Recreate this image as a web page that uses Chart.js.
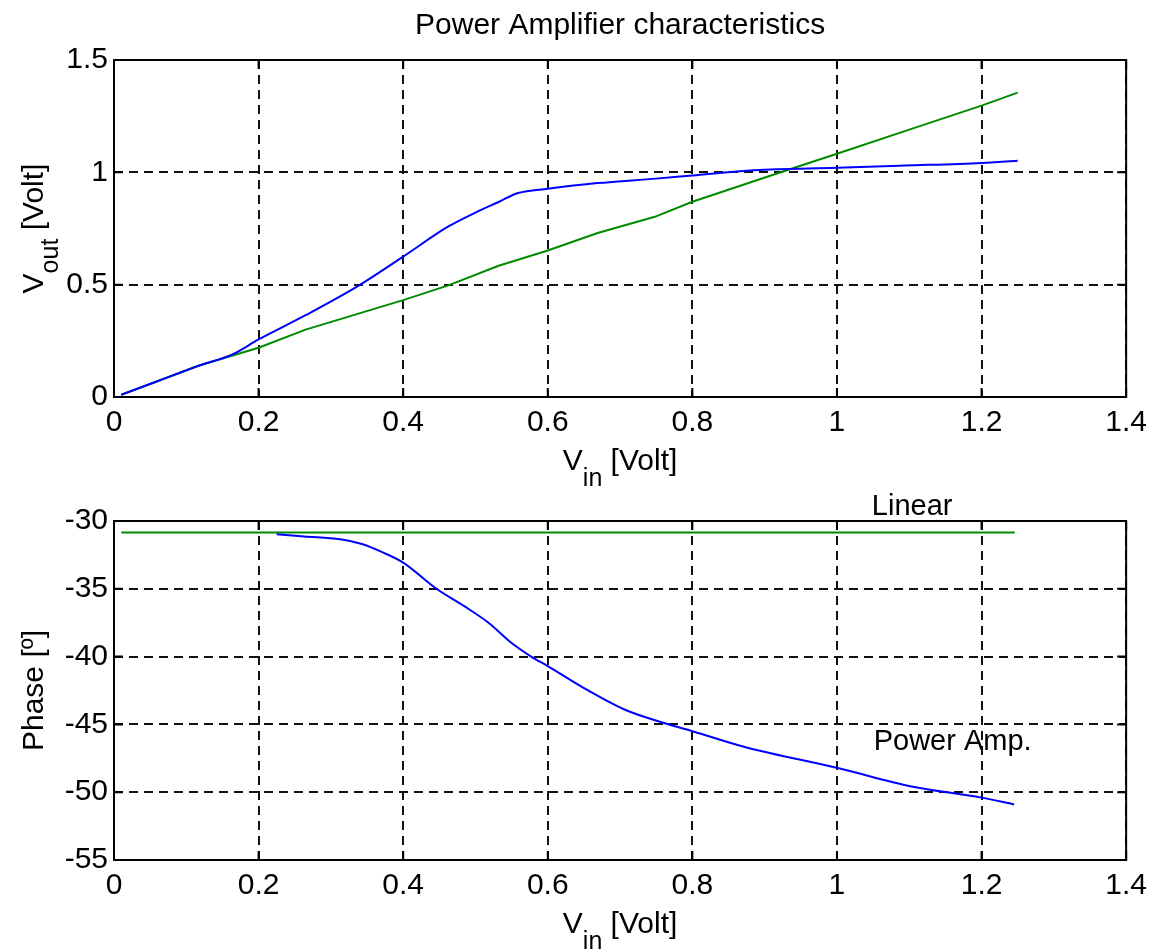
<!DOCTYPE html>
<html><head><meta charset="utf-8">
<script src="https://cdn.jsdelivr.net/npm/chart.js@4.4.1/dist/chart.umd.min.js"></script>
<style>
html,body{margin:0;padding:0;background:#fff;}
#wrap{position:relative;width:1155px;height:951px;overflow:hidden;background:#fff;}
#c1{position:absolute;left:0;top:0;}
#c2{position:absolute;left:0;top:470px;}
</style></head><body>
<div id="wrap"><canvas id="c1" width="1155" height="500"></canvas><canvas id="c2" width="1155" height="481"></canvas></div>
<script>
// ---- tick labels ----
const xTickValues = [0, 0.2, 0.4, 0.6, 0.8, 1, 1.2, 1.4];
const xTickLabels = ['0', '0.2', '0.4', '0.6', '0.8', '1', '1.2', '1.4'];
const ampTickValues = [0, 0.5, 1, 1.5];
const ampTickLabels = ['0', '0.5', '1', '1.5'];
const phaseTickValues = [-55, -50, -45, -40, -35, -30];
const phaseTickLabels = ['-55', '-50', '-45', '-40', '-35', '-30'];

// ---- top plot: output amplitude ----
const paAmpVin  = [0.01, 0.06, 0.118, 0.164, 0.2, 0.265, 0.339, 0.4, 0.4625, 0.5, 0.532, 0.559, 0.6, 0.669, 0.75, 0.8, 0.886, 1.0, 1.093, 1.2, 1.25];
const paAmpVout = [0.01, 0.07, 0.14, 0.19, 0.256, 0.364, 0.497, 0.625, 0.759, 0.821, 0.868, 0.908, 0.927, 0.952, 0.972, 0.986, 1.009, 1.02, 1.03, 1.042, 1.052];
const linAmpVin  = [0.01, 0.06, 0.118, 0.2, 0.265, 0.4, 0.4625, 0.532, 0.6, 0.669, 0.748, 0.8, 0.919, 1.0, 1.1, 1.2, 1.25];
const linAmpVout = [0.01, 0.07, 0.14, 0.219, 0.30, 0.431, 0.497, 0.584, 0.652, 0.73, 0.802, 0.869, 0.997, 1.083, 1.19, 1.297, 1.355];

// ---- bottom plot: phase ----
const paPhaseVin = [0.225, 0.263, 0.313, 0.343, 0.371, 0.4, 0.446, 0.485, 0.518, 0.55, 0.577, 0.6, 0.646, 0.706, 0.761, 0.8, 0.875, 1.0, 1.105, 1.2, 1.245];
const paPhaseDeg = [-30.98, -31.15, -31.35, -31.7, -32.3, -33.07, -35, -36.3, -37.5, -39.0, -40, -40.7, -42.2, -43.9, -44.9, -45.5, -46.7, -48.2, -49.6, -50.4, -50.9];
const linPhaseVin = [0.01, 0.25, 0.5, 0.75, 1.0, 1.246];
const linPhaseDeg = [-30.85, -30.85, -30.85, -30.85, -30.85, -30.85];

const phaseNotes = [
  { text: 'Linear', x: 1.104, y: -29.0 },
  { text: 'Power Amp.', x: 1.16, y: -46.33 }
];

const FONT = "'Liberation Sans', Arial, sans-serif";
const BLUE = '#0000ff';
const GREEN = '#008a00';

function pts(xs, ys) { return xs.map((x, i) => ({ x: x, y: ys[i] })); }

function makeX(height) {
  return {
    type: 'linear', min: 0, max: 1.4,
    afterBuildTicks: s => { s.ticks = xTickValues.map(v => ({ value: v })); },
    ticks: { callback: (v, i) => xTickLabels[i], padding: 8, color: '#000', font: { size: 30, family: FONT }, maxRotation: 0, autoSkip: false },
    grid: { color: '#111', lineWidth: 2, drawTicks: false },
    border: { display: false, dash: [9, 6] },
    afterFit: s => { s.height = height; }
  };
}
function makeY(min, max, vals, labels) {
  return {
    type: 'linear', min: min, max: max,
    afterBuildTicks: s => { s.ticks = vals.map(v => ({ value: v })); },
    ticks: { callback: (v, i) => labels[i], padding: 6, color: '#000', font: { size: 30, family: FONT }, autoSkip: false },
    grid: { color: '#111', lineWidth: 2, drawTicks: false },
    border: { display: false, dash: [9, 6] },
    afterFit: s => { s.width = 114; }
  };
}

const framePlugin = {
  id: 'frame',
  beforeDatasetsDraw(chart) {
    const { ctx, chartArea: a, scales } = chart;
    const x = scales.x, y = scales.y;
    ctx.save();
    ctx.setLineDash([]);
    ctx.strokeStyle = '#000';
    ctx.lineWidth = 2;
    ctx.strokeRect(a.left, a.top, a.right - a.left, a.bottom - a.top);
    ctx.beginPath();
    const L = 9;
    x.ticks.forEach(t => {
      const p = x.getPixelForValue(t.value);
      ctx.moveTo(p, a.bottom); ctx.lineTo(p, a.bottom - L);
      ctx.moveTo(p, a.top); ctx.lineTo(p, a.top + L);
    });
    y.ticks.forEach(t => {
      const p = y.getPixelForValue(t.value);
      ctx.moveTo(a.left, p); ctx.lineTo(a.left + L, p);
      ctx.moveTo(a.right, p); ctx.lineTo(a.right - L, p);
    });
    ctx.stroke();
    ctx.restore();
  }
};

function drawParts(ctx, parts, cx, cy, rot) {
  ctx.save();
  ctx.translate(cx, cy);
  if (rot) ctx.rotate(-Math.PI / 2);
  ctx.fillStyle = '#000';
  ctx.textBaseline = 'alphabetic';
  ctx.textAlign = 'left';
  let total = 0;
  parts.forEach(p => { ctx.font = p.size + 'px ' + FONT; p.w = ctx.measureText(p.t).width; total += p.w; });
  let xx = -total / 2;
  parts.forEach(p => { ctx.font = p.size + 'px ' + FONT; ctx.fillText(p.t, xx, p.dy); xx += p.w; });
  ctx.restore();
}

function axisTitles(xParts, yParts) {
  return {
    id: 'axisTitles',
    afterDraw(chart) {
      const { ctx, chartArea: a } = chart;
      const cx = (a.left + a.right) / 2;
      drawParts(ctx, xParts, cx, a.bottom + 73, false);
      drawParts(ctx, yParts, a.left - 71, (a.top + a.bottom) / 2, true);
    }
  };
}

const notesPlugin = {
  id: 'notes',
  afterDatasetsDraw(chart) {
    const { ctx, scales } = chart;
    ctx.save();
    ctx.fillStyle = '#000';
    ctx.font = '29px ' + FONT;
    ctx.textAlign = 'center';
    ctx.textBaseline = 'middle';
    phaseNotes.forEach(n => {
      ctx.fillText(n.text, scales.x.getPixelForValue(n.x), scales.y.getPixelForValue(n.y));
    });
    ctx.restore();
  }
};

const vinParts = [{ t: 'V', size: 30, dy: 0 }, { t: 'in', size: 25, dy: 16 }, { t: ' [Volt]', size: 30, dy: 0 }];

new Chart(document.getElementById('c1'), {
  type: 'line',
  data: {
    datasets: [
      { label: 'Power Amp.', data: pts(paAmpVin, paAmpVout), borderColor: BLUE, borderWidth: 2, pointRadius: 0, cubicInterpolationMode: 'monotone', fill: false },
      { label: 'Linear', data: pts(linAmpVin, linAmpVout), borderColor: GREEN, borderWidth: 2, pointRadius: 0, tension: 0, fill: false }
    ]
  },
  options: {
    responsive: false, animation: false, devicePixelRatio: 1,
    layout: { padding: { left: 0, right: 27, top: 0, bottom: 0 } },
    plugins: {
      legend: { display: false }, tooltip: { enabled: false },
      title: { display: true, text: 'Power Amplifier characteristics', fullSize: false, color: '#000', font: { size: 30, weight: 'normal', family: FONT, lineHeight: 1.2 }, padding: { top: 8, bottom: 16 } }
    },
    scales: { x: makeX(103), y: makeY(0, 1.5, ampTickValues, ampTickLabels) }
  },
  plugins: [framePlugin, axisTitles(vinParts, [{ t: 'V', size: 30, dy: 0 }, { t: 'out', size: 25, dy: 15 }, { t: ' [Volt]', size: 30, dy: 0 }])]
});

new Chart(document.getElementById('c2'), {
  type: 'line',
  data: {
    datasets: [
      { label: 'Power Amp.', data: pts(paPhaseVin, paPhaseDeg), borderColor: BLUE, borderWidth: 2, pointRadius: 0, cubicInterpolationMode: 'monotone', fill: false },
      { label: 'Linear', data: pts(linPhaseVin, linPhaseDeg), borderColor: GREEN, borderWidth: 2, pointRadius: 0, tension: 0, fill: false }
    ]
  },
  options: {
    responsive: false, animation: false, devicePixelRatio: 1,
    layout: { padding: { left: 0, right: 27, top: 51, bottom: 0 } },
    plugins: { legend: { display: false }, tooltip: { enabled: false } },
    scales: { x: makeX(91), y: makeY(-55, -30, phaseTickValues, phaseTickLabels) }
  },
  plugins: [framePlugin, notesPlugin, axisTitles(vinParts, [{ t: 'Phase [º]', size: 30, dy: 0 }])]
});
</script>
</body></html>
